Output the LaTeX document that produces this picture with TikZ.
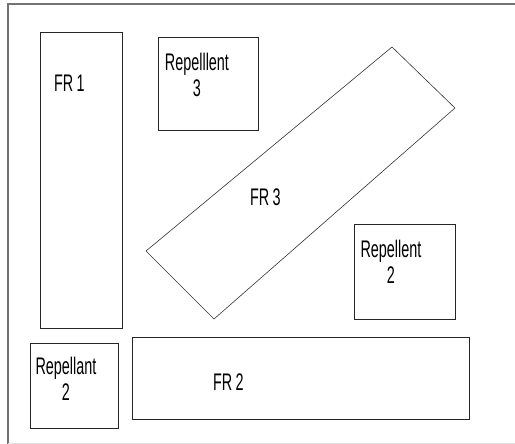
\documentclass[tikz,border=0pt]{standalone}
\usepackage{fontspec}
\setmainfont{Liberation Sans}[FakeStretch=0.6,WordSpace=0.8]
\begin{document}
\begin{tikzpicture}[x=1pt,y=-1pt,
    plot/.style={draw=black!85, line width=0.9pt},
    lbl/.style={font=\fontsize{24}{26}\selectfont, inner sep=0pt, align=center}]
    \useasboundingbox (0,0) rectangle (515,444);
    % outer frame
    \draw[black!55, line width=1.3pt] (8,444) -- (8,4) -- (515,4);
    \draw[black!12, line width=1pt] (8,443) -- (515,443);
    % plots
    \draw[plot] (40,32) rectangle (122,328);
    \draw[plot] (158,37) rectangle (258,130);
    \draw[plot] (354,224) rectangle (455,319);
    \draw[plot] (30,343) rectangle (118,428);
    \draw[plot] (132,337) rectangle (469,419);
    % tilted plot
    \coordinate (T) at (392,47);
    \coordinate (R) at (455,108);
    \coordinate (B) at (214,319);
    \coordinate (L) at (146,251);
    \draw[black!80, line width=0.6pt] (T)--(R)--(B)--(L)--cycle;
    % labels
    \node[lbl, anchor=base west] (fr1) at (54,92) {FR 1};
    \node[lbl, anchor=north] (rep3) at (197,53) {Repelllent\\3};
    \node[lbl, anchor=base west] (fr3) at (250,205) {FR 3};
    \node[lbl, anchor=north] (rep2r) at (391,240) {Repellent\\2};
    \node[lbl, anchor=north] (rep2l) at (66,357) {Repellant\\2};
    \node[lbl, anchor=base west] (fr2) at (213,390) {FR 2};
\end{tikzpicture}
\end{document}
